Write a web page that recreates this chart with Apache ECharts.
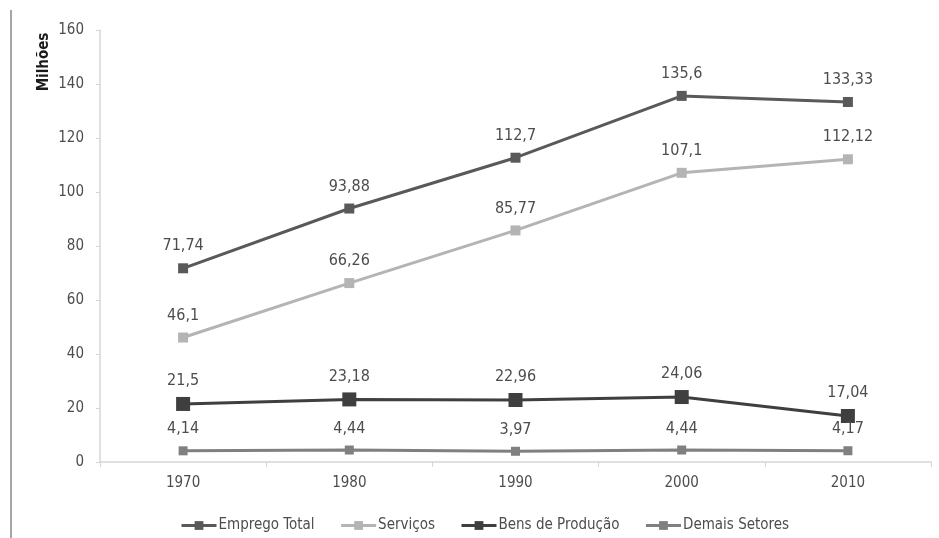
<!DOCTYPE html>
<html>
<head>
<meta charset="utf-8">
<script src="https://cdn.jsdelivr.net/npm/echarts@6/dist/echarts.min.js"></script>
<style>
html,body{margin:0;padding:0;background:#fff;}
#c{width:939px;height:538px;}
</style>
</head>
<body>
<div id="c"></div>
<script>
const categories = ['1970', '1980', '1990', '2000', '2010'];
const empregoTotal = [71.74, 93.88, 112.7, 135.6, 133.33];
const servicos = [46.1, 66.26, 85.77, 107.1, 112.12];
const bensProducao = [21.5, 23.18, 22.96, 24.06, 17.04];
const demaisSetores = [4.14, 4.44, 3.97, 4.44, 4.17];
const seriesNames = ['Emprego Total', 'Serviços', 'Bens de Produção', 'Demais Setores'];
const yTicks = [0, 20, 40, 60, 80, 100, 120, 140, 160];

const FONT = '"Liberation Sans Narrow", "DejaVu Sans Condensed", "Open Sans", sans-serif';
const fmt = v => String(v).replace('.', ',');

function mk(name, data, color, size) {
  return {
    name: name,
    type: 'line',
    data: data,
    symbol: 'rect',
    symbolSize: size,
    lineStyle: { color: color, width: 3 },
    itemStyle: { color: color },
    label: {
      show: true,
      position: 'top',
      distance: size > 10 ? 8 : 9,
      color: '#4d4d4d',
      fontFamily: FONT,
      fontSize: 16,
      formatter: p => fmt(p.value)
    },
    emphasis: { disabled: true },
    animation: false
  };
}

const chart = echarts.init(document.getElementById('c'), null, { renderer: 'canvas' });
chart.setOption({
  animation: false,
  grid: { left: 100, right: 8, top: 30, bottom: 76, containLabel: false },
  xAxis: {
    type: 'category',
    data: categories,
    boundaryGap: true,
    axisLine: { lineStyle: { color: '#d6d6d6', width: 1.5 } },
    axisTick: { show: true, length: 5, alignWithLabel: false, lineStyle: { color: '#d6d6d6' } },
    axisLabel: { color: '#4d4d4d', fontFamily: FONT, fontSize: 15, margin: 14 }
  },
  yAxis: {
    type: 'value',
    min: yTicks[0],
    max: yTicks[yTicks.length - 1],
    interval: 20,
    axisLine: { show: true, lineStyle: { color: '#d6d6d6', width: 1.5 } },
    axisTick: { show: true, length: 4, lineStyle: { color: '#d6d6d6' } },
    splitLine: { show: false },
    axisLabel: { color: '#4d4d4d', fontFamily: FONT, fontSize: 15, margin: 16 }
  },
  legend: {
    data: seriesNames,
    left: 175,
    top: 513,
    itemWidth: 35,
    itemHeight: 11,
    itemGap: 25,
    lineStyle: { width: 3 },
    textStyle: { color: '#4d4d4d', fontFamily: FONT, fontSize: 15, padding: [0, 0, 0, -3] }
  },
  graphic: [
    { type: 'line', shape: { x1: 11, y1: 10, x2: 11, y2: 538 }, style: { stroke: '#a6a6a6', lineWidth: 2 } },
    { type: 'text', x: 44, y: 62, rotation: Math.PI / 2,
      style: { text: 'Milhões', fill: '#1a1a1a', font: 'bold 15px ' + FONT, align: 'center', verticalAlign: 'middle' } }
  ],
  series: [
    mk(seriesNames[0], empregoTotal, '#595959', 10),
    mk(seriesNames[1], servicos, '#b4b4b4', 10),
    mk(seriesNames[2], bensProducao, '#3f3f3f', 14),
    mk(seriesNames[3], demaisSetores, '#808080', 9)
  ]
});
</script>
</body>
</html>
